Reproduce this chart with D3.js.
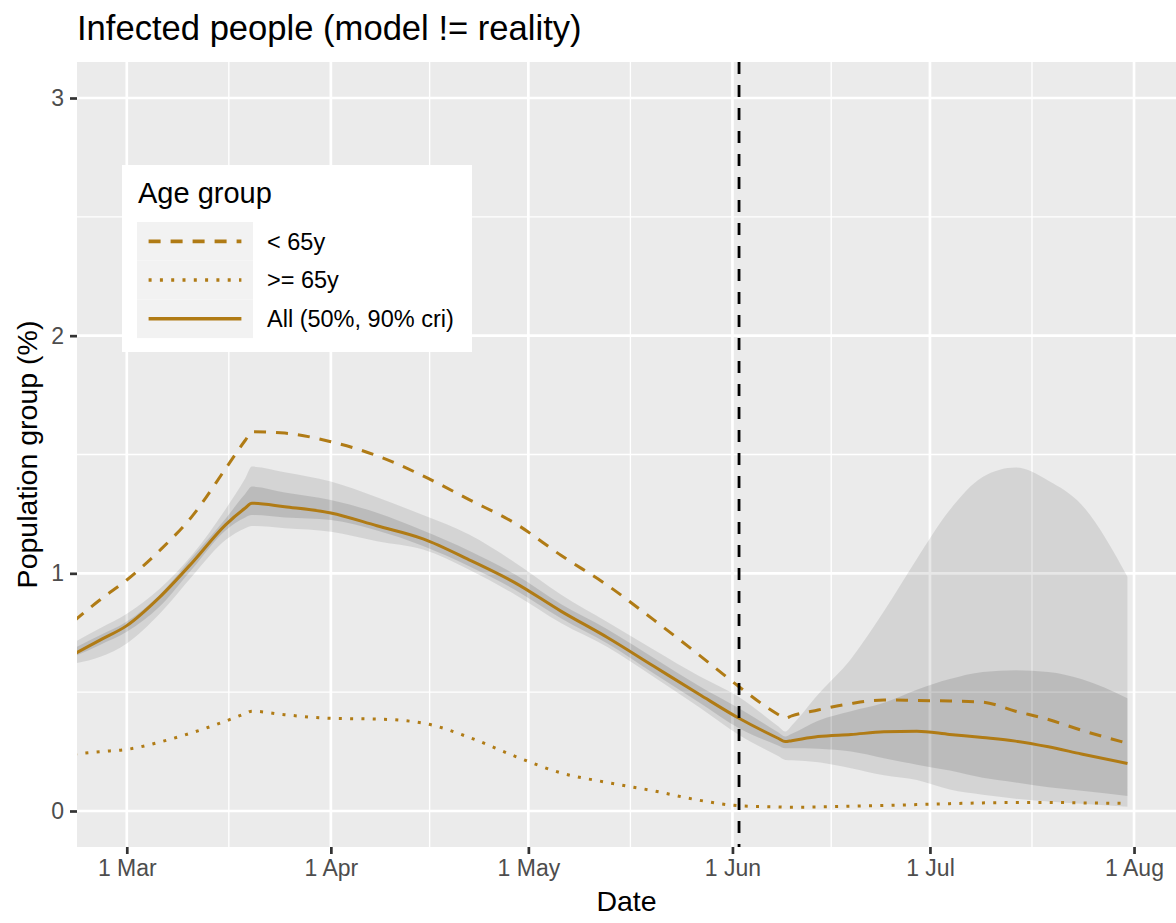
<!DOCTYPE html>
<html>
<head>
<meta charset="utf-8">
<script src="https://cdn.jsdelivr.net/npm/d3@7"></script>
<style>
  html, body { margin: 0; padding: 0; background: #ffffff; }
  svg { display: block; font-family: "Liberation Sans", Arial, Helvetica, sans-serif; }
</style>
</head>
<body>
<svg id="chart" width="1176" height="923"></svg>
<script>
// ---------------- data ----------------
const dates = ["2020-02-22","2020-02-26","2020-03-01","2020-03-06","2020-03-11","2020-03-16","2020-03-19","2020-03-20","2020-03-25",
  "2020-04-01","2020-04-08","2020-04-15","2020-04-22","2020-04-29","2020-05-06","2020-05-13","2020-05-20","2020-05-27",
  "2020-06-02","2020-06-08","2020-06-09","2020-06-10","2020-06-14","2020-06-19","2020-06-24","2020-06-29","2020-07-04","2020-07-09","2020-07-14",
  "2020-07-19","2020-07-24","2020-07-31"];
const allMedian = [0.66,0.72,0.78,0.90,1.047,1.204,1.275,1.295,1.28,1.254,1.20,1.145,1.057,0.96,0.84,0.73,0.61,0.49,
  0.39,0.305,0.292,0.296,0.313,0.322,0.333,0.336,0.322,0.309,0.294,0.27,0.24,0.20];
const under65 = [0.80,0.89,0.972,1.096,1.243,1.44,1.56,1.596,1.59,1.554,1.495,1.41,1.31,1.21,1.075,0.95,0.805,0.655,
  0.523,0.405,0.39,0.40,0.425,0.452,0.467,0.465,0.463,0.458,0.42,0.385,0.34,0.285];
const over65 = [0.24,0.25,0.259,0.29,0.33,0.378,0.41,0.42,0.405,0.39,0.387,0.37,0.31,0.23,0.16,0.12,0.085,0.045,
  0.022,0.017,0.016,0.016,0.017,0.02,0.023,0.027,0.031,0.034,0.036,0.036,0.034,0.032];
const lo90 = [0.62,0.649,0.705,0.83,0.99,1.14,1.19,1.199,1.19,1.175,1.135,1.10,1.015,0.91,0.79,0.69,0.565,0.435,
  0.32,0.23,0.215,0.214,0.205,0.18,0.15,0.13,0.09,0.068,0.052,0.04,0.03,0.018];
const hi90 = [0.71,0.77,0.83,0.935,1.08,1.27,1.40,1.449,1.425,1.386,1.32,1.245,1.163,1.045,0.91,0.795,0.68,0.567,
  0.48,0.355,0.334,0.36,0.49,0.64,0.84,1.06,1.266,1.405,1.445,1.39,1.29,0.986];
const lo50 = [0.65,0.70,0.754,0.86,1.02,1.18,1.235,1.245,1.235,1.224,1.18,1.115,1.03,0.93,0.81,0.705,0.58,0.455,
  0.348,0.275,0.264,0.264,0.262,0.25,0.222,0.195,0.17,0.14,0.12,0.10,0.085,0.063];
const hi50 = [0.685,0.74,0.797,0.91,1.07,1.23,1.335,1.365,1.34,1.309,1.255,1.18,1.095,0.995,0.87,0.765,0.645,0.525,
  0.432,0.33,0.313,0.325,0.38,0.42,0.455,0.51,0.555,0.585,0.592,0.585,0.555,0.474];
const cutoffDate = "2020-06-02";
const xTickDates = ["2020-03-01","2020-04-01","2020-05-01","2020-06-01","2020-07-01","2020-08-01"];
const xMinorDates = ["2020-03-16T12:00","2020-04-16","2020-05-16T12:00","2020-06-16","2020-07-16T12:00"];
const yTicks = [0, 1, 2, 3];
const yMinor = [0.5, 1.5, 2.5];
const legendLabels = ["< 65y", ">= 65y", "All (50%, 90% cri)"];
const titleText = "Infected people (model != reality)";
const xTitle = "Date";
const yTitle = "Population group (%)";
const legendTitle = "Age group";

// ---------------- layout ----------------
const parse = d3.timeParse("%Y-%m-%d");
const parseT = s => s.length > 10 ? d3.timeParse("%Y-%m-%dT%H:%M")(s) : parse(s);
const P = { left: 77, right: 1176, top: 62, bottom: 847 };
const lineColor = "#B07B15";
const curve = d3.curveMonotoneX;

const x = d3.scaleTime()
  .domain([new Date(2020, 1, 22, 10, 30), new Date(2020, 7, 7, 9, 0)])
  .range([P.left, P.right]);
const y = d3.scaleLinear().domain([-0.1515, 3.1515]).range([P.bottom, P.top]);

const rows = dates.map((d, i) => ({
  date: parse(d), med: allMedian[i], u65: under65[i], o65: over65[i],
  lo90: lo90[i], hi90: hi90[i], lo50: lo50[i], hi50: hi50[i]
}));

const svg = d3.select("#chart");

// title
svg.append("text").attr("x", 77).attr("y", 40).attr("font-size", 34.6).attr("fill", "#000")
  .text(titleText);

// panel background
svg.append("rect").attr("x", P.left).attr("y", P.top)
  .attr("width", P.right - P.left).attr("height", P.bottom - P.top).attr("fill", "#EBEBEB");

svg.append("clipPath").attr("id", "clip").append("rect")
  .attr("x", P.left).attr("y", P.top).attr("width", P.right - P.left).attr("height", P.bottom - P.top);

const grid = svg.append("g");
// minor grid
xMinorDates.forEach(s => {
  const xx = x(parseT(s));
  grid.append("line").attr("x1", xx).attr("x2", xx).attr("y1", P.top).attr("y2", P.bottom)
    .attr("stroke", "#fff").attr("stroke-width", 1.35);
});
yMinor.forEach(v => {
  grid.append("line").attr("x1", P.left).attr("x2", P.right).attr("y1", y(v)).attr("y2", y(v))
    .attr("stroke", "#fff").attr("stroke-width", 1.35);
});
// major grid
xTickDates.forEach(s => {
  const xx = x(parse(s));
  grid.append("line").attr("x1", xx).attr("x2", xx).attr("y1", P.top).attr("y2", P.bottom)
    .attr("stroke", "#fff").attr("stroke-width", 2.7);
});
yTicks.forEach(v => {
  grid.append("line").attr("x1", P.left).attr("x2", P.right).attr("y1", y(v)).attr("y2", y(v))
    .attr("stroke", "#fff").attr("stroke-width", 2.7);
});

const plot = svg.append("g").attr("clip-path", "url(#clip)");

const area90 = d3.area().curve(curve).x(d => x(d.date)).y0(d => y(d.lo90)).y1(d => y(d.hi90));
const area50 = d3.area().curve(curve).x(d => x(d.date)).y0(d => y(d.lo50)).y1(d => y(d.hi50));
plot.append("path").datum(rows).attr("d", area90).attr("fill", "#000").attr("fill-opacity", 0.095);
plot.append("path").datum(rows).attr("d", area50).attr("fill", "#000").attr("fill-opacity", 0.115);

const mkLine = key => d3.line().curve(curve).x(d => x(d.date)).y(d => y(d[key]));
plot.append("path").datum(rows).attr("d", mkLine("u65")).attr("fill", "none")
  .attr("stroke", lineColor).attr("stroke-width", 3).attr("stroke-dasharray", "12,10");
plot.append("path").datum(rows).attr("d", mkLine("o65")).attr("fill", "none")
  .attr("stroke", lineColor).attr("stroke-width", 3).attr("stroke-dasharray", "3,8.3");
plot.append("path").datum(rows).attr("d", mkLine("med")).attr("fill", "none")
  .attr("stroke", lineColor).attr("stroke-width", 3);

// cutoff vertical dashed line
const cx = x(parse(cutoffDate));
plot.append("line").attr("x1", cx).attr("x2", cx).attr("y1", P.top).attr("y2", P.bottom)
  .attr("stroke", "#000").attr("stroke-width", 2.8).attr("stroke-dasharray", "12,11");

// axes
const xAxis = d3.axisBottom(x).tickValues(xTickDates.map(parse))
  .tickFormat(d3.timeFormat("%-d %b")).tickSize(7).tickPadding(6);
const gx = svg.append("g").attr("transform", `translate(0,${P.bottom})`).call(xAxis);
gx.select(".domain").remove();
gx.selectAll(".tick line").attr("stroke", "#333").attr("stroke-width", 2.7);
gx.selectAll(".tick text").attr("fill", "#4D4D4D").attr("font-size", 23)
  .attr("font-family", "Liberation Sans, Arial, sans-serif");

const yAxis = d3.axisLeft(y).tickValues(yTicks).tickFormat(d3.format("d")).tickSize(7).tickPadding(6);
const gy = svg.append("g").attr("transform", `translate(${P.left},0)`).call(yAxis);
gy.select(".domain").remove();
gy.selectAll(".tick line").attr("stroke", "#333").attr("stroke-width", 2.7);
gy.selectAll(".tick text").attr("fill", "#4D4D4D").attr("font-size", 23)
  .attr("font-family", "Liberation Sans, Arial, sans-serif");

// axis titles
svg.append("text").attr("x", (P.left + P.right) / 2).attr("y", 911).attr("text-anchor", "middle")
  .attr("font-size", 28.5).attr("fill", "#000").text(xTitle);
svg.append("text").attr("transform", `translate(37,${(P.top + P.bottom) / 2}) rotate(-90)`)
  .attr("text-anchor", "middle").attr("font-size", 28.5).attr("fill", "#000").text(yTitle);

// legend
const lg = svg.append("g");
lg.append("rect").attr("x", 122).attr("y", 165).attr("width", 350).attr("height", 187).attr("fill", "#fff");
lg.append("text").attr("x", 138).attr("y", 203).attr("font-size", 29).attr("fill", "#000").text(legendTitle);
const keyX = 137, keyY = 222, keyW = 116, keyH = 38.7;
const dashes = ["12,10", "3,8.3", null];
legendLabels.forEach((lab, i) => {
  const ky = keyY + i * keyH;
  lg.append("rect").attr("x", keyX).attr("y", ky).attr("width", keyW).attr("height", keyH).attr("fill", "#F2F2F2");
  const ln = lg.append("line").attr("x1", keyX + 11.6).attr("x2", keyX + keyW - 11.6)
    .attr("y1", ky + keyH / 2).attr("y2", ky + keyH / 2)
    .attr("stroke", lineColor).attr("stroke-width", 3.6);
  if (dashes[i]) ln.attr("stroke-dasharray", dashes[i]);
  lg.append("text").attr("x", 267).attr("y", ky + keyH / 2).attr("dy", "0.35em")
    .attr("font-size", 23.5).attr("fill", "#000").text(lab);
});
</script>
</body>
</html>
